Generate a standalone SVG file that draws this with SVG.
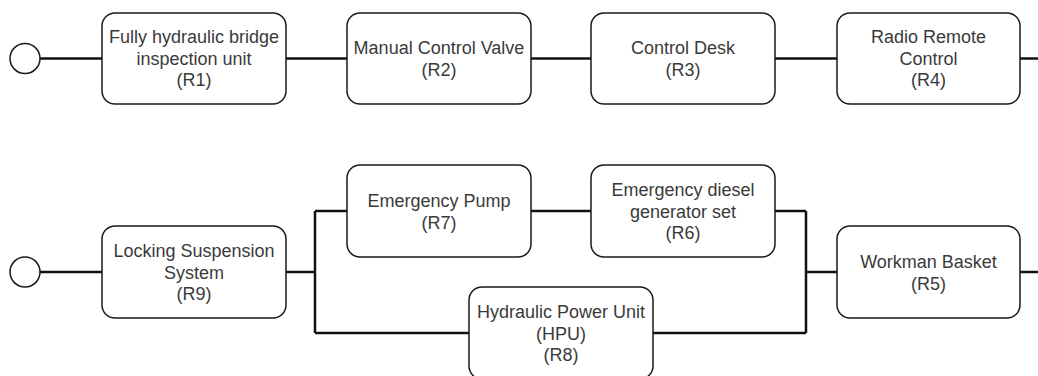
<svg xmlns="http://www.w3.org/2000/svg" width="1038" height="376" viewBox="0 0 1038 376">
<style>
.box{fill:#fff;stroke:#1a1a1a;stroke-width:1.5}
.term{fill:#fff;stroke:#1a1a1a;stroke-width:1.5}
.conn{fill:none;stroke:#111;stroke-width:2.5;stroke-linejoin:miter}
text{font-family:"Liberation Sans",Arial,sans-serif;font-size:18px;fill:#3a3a3a;text-anchor:middle}
</style>
<rect width="1038" height="376" fill="#fff"/>
<g id="connectors">
<path class="conn" d="M40 58.5H102M286 58.5H347M531 58.5H591M775 58.5H837M1020 58.5H1038"/>
<path class="conn" d="M40 272H102M286 272H315M315 211V333M315 211H347M531 211H591M775 211H806M315 333H469M653 333H806M806 211V333M806 272H837M1020 272H1038"/>
</g>
<g id="start1"><circle class="term" cx="25" cy="58.5" r="15"/></g>
<g id="start2"><circle class="term" cx="25" cy="272" r="15"/></g>
<g id="R1"><rect class="box" x="102" y="13" width="184" height="91" rx="13"/>
<text x="194" y="43">Fully hydraulic bridge</text><text x="194" y="64.5">inspection unit</text><text x="194" y="86">(R1)</text></g>
<g id="R2"><rect class="box" x="347" y="13" width="184" height="91" rx="13"/>
<text x="439" y="54">Manual Control Valve</text><text x="439" y="76">(R2)</text></g>
<g id="R3"><rect class="box" x="591" y="13" width="184" height="91" rx="13"/>
<text x="683" y="54">Control Desk</text><text x="683" y="76">(R3)</text></g>
<g id="R4"><rect class="box" x="837" y="13" width="183" height="91" rx="13"/>
<text x="928.5" y="43">Radio Remote</text><text x="928.5" y="64.5">Control</text><text x="928.5" y="86">(R4)</text></g>
<g id="R9"><rect class="box" x="102" y="226" width="184" height="92" rx="13"/>
<text x="194" y="257">Locking Suspension</text><text x="194" y="278.5">System</text><text x="194" y="300">(R9)</text></g>
<g id="R7"><rect class="box" x="347" y="165" width="184" height="92" rx="13"/>
<text x="439" y="206.5">Emergency Pump</text><text x="439" y="228.5">(R7)</text></g>
<g id="R6"><rect class="box" x="591" y="165" width="184" height="92" rx="13"/>
<text x="683" y="196">Emergency diesel</text><text x="683" y="217.5">generator set</text><text x="683" y="239">(R6)</text></g>
<g id="R8"><rect class="box" x="469" y="287" width="184" height="92" rx="13"/>
<text x="561" y="318">Hydraulic Power Unit</text><text x="561" y="339.5">(HPU)</text><text x="561" y="361">(R8)</text></g>
<g id="R5"><rect class="box" x="837" y="226" width="183" height="92" rx="13"/>
<text x="928.5" y="267.5">Workman Basket</text><text x="928.5" y="289.5">(R5)</text></g>
</svg>
